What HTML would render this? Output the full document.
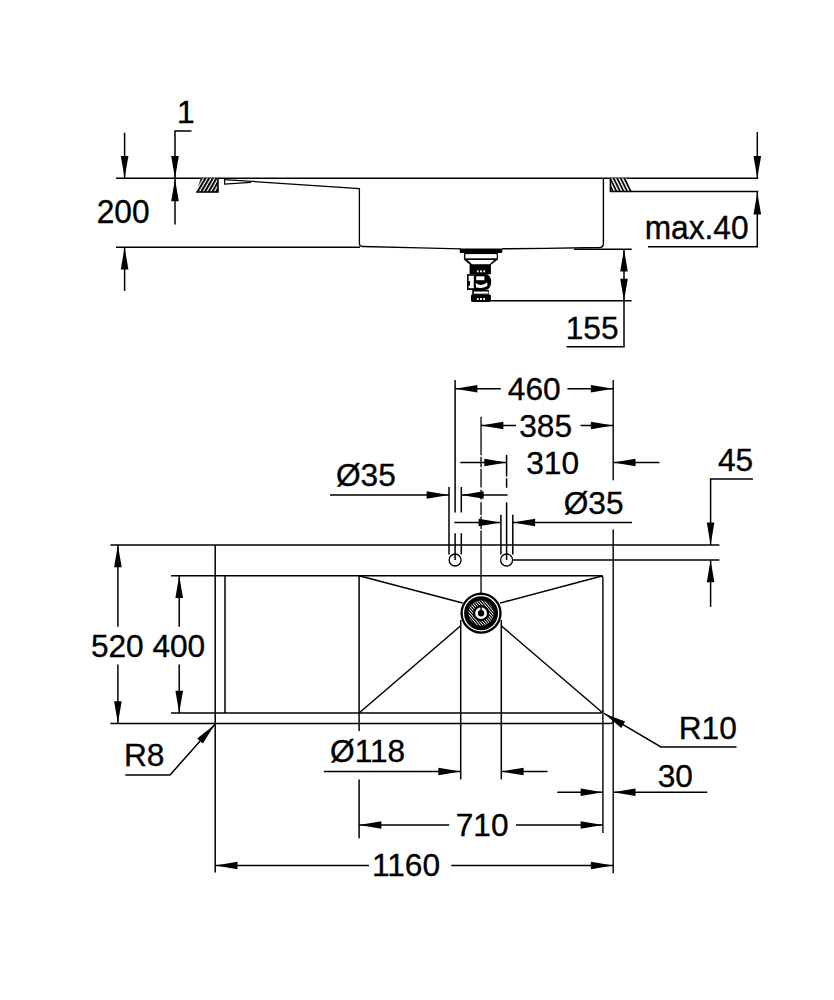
<!DOCTYPE html>
<html><head><meta charset="utf-8"><title>Sink dimensions</title>
<style>
html,body{margin:0;padding:0;background:#fff;}
body{width:834px;height:1000px;overflow:hidden;}
svg{display:block;}

svg text{font-family:"Liberation Sans",Arial,Helvetica,sans-serif;fill:#000;stroke:#000;stroke-width:0.35px;}
</style></head><body>
<svg width="834" height="1000" viewBox="0 0 834 1000" stroke="#000">
<defs>
<pattern id="h1" width="3.2" height="3.2" patternUnits="userSpaceOnUse" patternTransform="translate(196.2 192.2) rotate(-60)"><rect width="3.2" height="3.2" fill="#fff" stroke="none"/><rect width="3.2" height="2.0" fill="#000" stroke="none"/></pattern>
<pattern id="h2" width="3.2" height="3.2" patternUnits="userSpaceOnUse" patternTransform="translate(632 192) rotate(64)"><rect width="3.2" height="3.2" fill="#fff" stroke="none"/><rect width="3.2" height="1.8" fill="#000" stroke="none"/></pattern>
<pattern id="hw" width="2.1" height="2.1" patternUnits="userSpaceOnUse" patternTransform="rotate(50)"><rect width="2.1" height="2.1" fill="#000" stroke="none"/><rect width="2.1" height="0.85" fill="#fff" stroke="none"/></pattern>
</defs>
<rect width="834" height="1000" fill="#fff" stroke="none"/>
<line x1="116" y1="178.2" x2="758.3" y2="178.2" stroke-width="1.6" />
<line x1="116" y1="247.2" x2="360" y2="247.2" stroke-width="1.5" />
<line x1="124.6" y1="132.7" x2="124.6" y2="178.2" stroke-width="1.5" />
<polygon points="124.6,178.2 120.8,155.89999999999998 128.4,155.89999999999998" fill="#000" stroke="none"/>
<line x1="124.6" y1="247.2" x2="124.6" y2="291" stroke-width="1.5" />
<polygon points="124.6,247.2 120.8,269.5 128.4,269.5" fill="#000" stroke="none"/>
<text transform="translate(96.7 222.6) scale(0.99 1.03)" font-size="32">200</text>
<polyline points="191.5,131 175,131 175,178.2" fill="none" stroke-width="1.5" />
<polygon points="175,178.2 171.2,155.89999999999998 178.8,155.89999999999998" fill="#000" stroke="none"/>
<line x1="175" y1="178.2" x2="175" y2="224.6" stroke-width="1.5" />
<polygon points="175,179.0 171.2,201.3 178.8,201.3" fill="#000" stroke="none"/>
<text transform="translate(177.1 122.9) scale(0.99 1.0)" font-size="32">1</text>
<polygon points="200.8,178.2 218.2,178.2 218.2,192.2 196.2,192.2" fill="url(#h1)" stroke="none"/>
<polyline points="218.0,178.2 218.0,192.0 196.2,192.0" fill="none" stroke-width="1.5" />
<polygon points="610.2,178.2 626.4,178.2 632.6,192 610.2,192" fill="url(#h2)" stroke="none"/>
<polyline points="610.4,178.2 610.4,191.6 632,191.6" fill="none" stroke-width="1.5" />
<polyline points="224.6,178.2 224.6,184.2 251,182.4" fill="none" stroke-width="1.2" />
<path d="M224.6 179.6 L359.4 188.5 L359.4 243.6 Q359.4 246.4 362.4 246.5 L420 247.9 L461 248.8" fill="none" stroke-width="1.3"/>
<path d="M502 248.8 L545 248.4 L599.4 247.5 Q603.4 247.3 603.4 243.4 L603.4 178.2" fill="none" stroke-width="1.4"/>
<line x1="574" y1="249.2" x2="631.7" y2="249.2" stroke-width="1.5" />
<line x1="631.6" y1="191.5" x2="758.3" y2="191.5" stroke-width="1.5" />
<line x1="757.3" y1="132" x2="757.3" y2="178.2" stroke-width="1.5" />
<polygon points="757.3,178.2 753.5,155.89999999999998 761.0999999999999,155.89999999999998" fill="#000" stroke="none"/>
<polyline points="757.3,191.8 757.3,246.7 648,246.7" fill="none" stroke-width="1.5" />
<polygon points="757.3,192.2 753.5,214.5 761.0999999999999,214.5" fill="#000" stroke="none"/>
<text transform="translate(644.7 238.5) scale(0.99 1.015)" font-size="32">max.40</text>
<line x1="624" y1="249" x2="624" y2="346.8" stroke-width="1.5" />
<polygon points="624,249.3 620.2,271.6 627.8,271.6" fill="#000" stroke="none"/>
<polygon points="624,301 620.2,278.7 627.8,278.7" fill="#000" stroke="none"/>
<line x1="490.6" y1="300.7" x2="631.6" y2="300.7" stroke-width="1.5" />
<line x1="566.5" y1="346.8" x2="624.7" y2="346.8" stroke-width="1.5" />
<text transform="translate(565.7 338.5) scale(0.99 1.0)" font-size="32">155</text>
<g stroke="none" fill="#000">
<rect x="459.7" y="248.5" width="42.6" height="4.5" rx="1.2"/>
<path d="M463.9 252.6 H497.9 V259.4 L490.4 265.2 H470.4 L463.9 259.4 Z"/>
<rect x="465.3" y="254.1" width="31.4" height="4.2" fill="#fff"/>
<path d="M467.6 260 H494.2 L489.6 264.3 H472 Z" fill="#fff"/>
<rect x="469.6" y="264.9" width="21.3" height="9.4"/>
<rect x="467" y="274.2" width="8.2" height="15.8"/>
<rect x="468.6" y="275.8" width="5.2" height="12.4" fill="#fff"/>
<rect x="468" y="281.2" width="2" height="4.6"/>
<path d="M474.8 273.8 H485 Q491.2 274.6 491.2 282 Q491.2 289 485 290 H474.8 Z"/>
<rect x="476.2" y="276.3" width="8.2" height="3.9" fill="#fff"/>
<path d="M475.8 283 Q481 287.2 487 282.6 L487.6 285.2 Q484.6 289 476 287.6 Z" fill="#fff"/>
<rect x="472.2" y="289.8" width="16.6" height="5"/>
<rect x="473.8" y="291.5" width="14.4" height="2.2" fill="#fff"/>
<rect x="471" y="294.6" width="19.9" height="7.4" rx="1.4"/>
<rect x="476.9" y="270.4" width="1.7" height="1.9" fill="#fff"/><rect x="480" y="270.4" width="1.9" height="1.9" fill="#fff"/><rect x="483.2" y="270.4" width="1.9" height="1.9" fill="#fff"/>
<rect x="476.9" y="298" width="1.7" height="2" fill="#fff"/><rect x="480" y="298" width="1.9" height="2" fill="#fff"/><rect x="483.2" y="298" width="1.9" height="2" fill="#fff"/>
</g>
<line x1="110.4" y1="544.9" x2="719.4" y2="544.9" stroke-width="1.5" />
<line x1="110.4" y1="723.5" x2="610.5" y2="723.5" stroke-width="1.5" />
<path d="M610.5 723.5 Q613.2 723.5 613.2 720.8" fill="none" stroke-width="1.5"/>
<line x1="215.2" y1="544.9" x2="215.2" y2="872.4" stroke-width="1.5" />
<line x1="171" y1="575.7" x2="599.9" y2="575.7" stroke-width="1.5" />
<line x1="171" y1="713.0" x2="599.9" y2="713.0" stroke-width="1.5" />
<path d="M599.9 575.7 Q602.9 575.7 602.9 578.2" fill="none" stroke-width="1.5"/>
<path d="M599.9 713.0 Q602.9 713.0 602.9 710.5" fill="none" stroke-width="1.5"/>
<line x1="225" y1="575.7" x2="225" y2="713.0" stroke-width="1.5" />
<line x1="359.1" y1="575.7" x2="359.1" y2="731" stroke-width="1.5" />
<line x1="359.1" y1="779.4" x2="359.1" y2="838.2" stroke-width="1.5" />
<line x1="602.9" y1="578.2" x2="602.9" y2="832.9" stroke-width="1.4" />
<line x1="613.2" y1="380" x2="613.2" y2="480.2" stroke-width="1.4" />
<line x1="613.2" y1="529.4" x2="613.2" y2="873.2" stroke-width="1.4" />
<line x1="117.9" y1="544.9" x2="117.9" y2="626.8" stroke-width="1.5" />
<line x1="117.9" y1="664.5" x2="117.9" y2="723.5" stroke-width="1.5" />
<polygon points="117.9,544.9 114.10000000000001,567.1999999999999 121.7,567.1999999999999" fill="#000" stroke="none"/>
<polygon points="117.9,723.5 114.10000000000001,701.2 121.7,701.2" fill="#000" stroke="none"/>
<line x1="179.2" y1="575.7" x2="179.2" y2="626.8" stroke-width="1.5" />
<line x1="179.2" y1="664.5" x2="179.2" y2="713.0" stroke-width="1.5" />
<polygon points="179.2,575.7 175.39999999999998,598.0 183.0,598.0" fill="#000" stroke="none"/>
<polygon points="179.2,713.0 175.39999999999998,690.7 183.0,690.7" fill="#000" stroke="none"/>
<text transform="translate(90.9 656.5) scale(0.99 1.0)" font-size="32">520</text>
<text transform="translate(152.4 656.5) scale(0.99 1.0)" font-size="32">400</text>
<polyline points="125.3,775 170,775 214.8,724.4" fill="none" stroke-width="1.5" />
<polygon points="214.80,724.40 202.86,743.62 197.17,738.58" fill="#000" stroke="none"/>
<text transform="translate(124.0 766.1) scale(0.99 1.0)" font-size="32">R8</text>
<polyline points="736.5,746.9 660.9,746.9 604,713.4" fill="none" stroke-width="1.5" />
<polygon points="604.00,713.40 625.14,721.44 621.29,727.99" fill="#000" stroke="none"/>
<text transform="translate(678.7 738.9) scale(0.99 1.0)" font-size="32">R10</text>
<line x1="359.1" y1="575.7" x2="462.6" y2="603.1" stroke-width="1.5" />
<line x1="602.9" y1="575.7" x2="499.8" y2="603.1" stroke-width="1.5" />
<line x1="359.1" y1="713.0" x2="460.7" y2="625.8" stroke-width="1.5" />
<line x1="602.9" y1="713.0" x2="501.2" y2="625.8" stroke-width="1.5" />
<line x1="460.7" y1="620" x2="460.7" y2="779.4" stroke-width="1.5" />
<line x1="501.3" y1="620" x2="501.3" y2="779.4" stroke-width="1.5" />
<line x1="481.05" y1="416.8" x2="481.05" y2="613.2" stroke-width="1.3" stroke-dasharray="38.4 1.5 10.5 1.5 18.8 2.3 9.7 2.8 12.7 1.5 12.5 1.6 300 0"/>
<circle cx="481.05" cy="613.2" r="20.6" fill="#000" stroke="none"/>
<circle cx="481.05" cy="613.2" r="17.6" fill="none" stroke="#fff" stroke-width="1.3"/>
<circle cx="481.05" cy="613.2" r="10.4" fill="none" stroke="url(#hw)" stroke-width="4.4"/>
<circle cx="481.05" cy="613.2" r="4.55" fill="none" stroke="#fff" stroke-width="2.7"/>
<line x1="481.05" y1="606.2" x2="481.05" y2="613.2" stroke-width="1.4" />
<circle cx="455.1" cy="560" r="6.0" fill="none" stroke-width="1.3"/>
<circle cx="506.6" cy="560" r="6.0" fill="none" stroke-width="1.3"/>
<line x1="449" y1="487" x2="449" y2="554.4" stroke-width="1.5" />
<line x1="455.1" y1="380" x2="455.1" y2="512.5" stroke-width="1.5" />
<line x1="455.1" y1="533.2" x2="455.1" y2="560" stroke-width="1.5" />
<line x1="461.3" y1="487" x2="461.3" y2="512.5" stroke-width="1.5" />
<line x1="461.3" y1="533.2" x2="461.3" y2="554.4" stroke-width="1.5" />
<line x1="500.9" y1="514.7" x2="500.9" y2="554.4" stroke-width="1.5" />
<line x1="512.8" y1="514.7" x2="512.8" y2="554.4" stroke-width="1.5" />
<line x1="506.6" y1="454.8" x2="506.6" y2="476.5" stroke-width="1.5" />
<line x1="506.6" y1="478.2" x2="506.6" y2="487.8" stroke-width="1.5" />
<line x1="506.6" y1="502.4" x2="506.6" y2="560" stroke-width="1.5" />
<line x1="512.6" y1="560" x2="719.4" y2="560" stroke-width="1.5" />
<line x1="455.1" y1="388.7" x2="500.8" y2="388.7" stroke-width="1.5" />
<polygon points="455.1,388.7 477.40000000000003,384.9 477.40000000000003,392.5" fill="#000" stroke="none"/>
<line x1="567.4" y1="388.7" x2="613.2" y2="388.7" stroke-width="1.5" />
<polygon points="613.2,388.7 590.9000000000001,384.9 590.9000000000001,392.5" fill="#000" stroke="none"/>
<text transform="translate(507.8 399.8) scale(0.99 1.0)" font-size="32">460</text>
<line x1="481.05" y1="425.5" x2="516" y2="425.5" stroke-width="1.5" />
<polygon points="481.05,425.5 503.35,421.7 503.35,429.3" fill="#000" stroke="none"/>
<line x1="580.5" y1="425.5" x2="613.2" y2="425.5" stroke-width="1.5" />
<polygon points="613.2,425.5 590.9000000000001,421.7 590.9000000000001,429.3" fill="#000" stroke="none"/>
<text transform="translate(519.2 436.8) scale(0.99 1.0)" font-size="32">385</text>
<line x1="460.3" y1="462.5" x2="506.6" y2="462.5" stroke-width="1.5" />
<polygon points="506.6,462.5 484.3,458.7 484.3,466.3" fill="#000" stroke="none"/>
<line x1="613.2" y1="462.5" x2="659.4" y2="462.5" stroke-width="1.5" />
<polygon points="613.2,462.5 635.5,458.7 635.5,466.3" fill="#000" stroke="none"/>
<text transform="translate(526.2 473.8) scale(0.99 1.0)" font-size="32">310</text>
<line x1="330" y1="495" x2="449" y2="495" stroke-width="1.5" />
<polygon points="449,495 426.7,491.2 426.7,498.8" fill="#000" stroke="none"/>
<line x1="461.3" y1="495" x2="507.6" y2="495" stroke-width="1.5" />
<polygon points="461.3,495 483.6,491.2 483.6,498.8" fill="#000" stroke="none"/>
<text transform="translate(335.9 485.6) scale(0.99 1.0)" font-size="32">Ø35</text>
<line x1="454.4" y1="522.5" x2="500.9" y2="522.5" stroke-width="1.5" />
<polygon points="500.9,522.5 478.59999999999997,518.7 478.59999999999997,526.3" fill="#000" stroke="none"/>
<line x1="512.8" y1="522.5" x2="632" y2="522.5" stroke-width="1.5" />
<polygon points="512.8,522.5 535.0999999999999,518.7 535.0999999999999,526.3" fill="#000" stroke="none"/>
<text transform="translate(563.7 513.6) scale(0.99 1.0)" font-size="32">Ø35</text>
<polyline points="752.9,479.1 710.6,479.1 710.6,544.9" fill="none" stroke-width="1.5" />
<polygon points="710.6,544.9 706.8000000000001,522.6 714.4,522.6" fill="#000" stroke="none"/>
<line x1="710.6" y1="560" x2="710.6" y2="606.8" stroke-width="1.5" />
<polygon points="710.6,560 706.8000000000001,582.3 714.4,582.3" fill="#000" stroke="none"/>
<text transform="translate(717.9 471.4) scale(0.99 1.0)" font-size="32">45</text>
<line x1="323.8" y1="771.5" x2="460.7" y2="771.5" stroke-width="1.5" />
<polygon points="460.7,771.5 438.4,767.7 438.4,775.3" fill="#000" stroke="none"/>
<line x1="501.3" y1="771.5" x2="547.6" y2="771.5" stroke-width="1.5" />
<polygon points="501.3,771.5 523.6,767.7 523.6,775.3" fill="#000" stroke="none"/>
<text transform="translate(330.0 762.1) scale(0.99 1.0)" font-size="32">Ø118</text>
<line x1="557.3" y1="792.2" x2="602.9" y2="792.2" stroke-width="1.5" />
<polygon points="602.9,792.2 580.6,788.4000000000001 580.6,796.0" fill="#000" stroke="none"/>
<line x1="613.2" y1="792.2" x2="707.3" y2="792.2" stroke-width="1.5" />
<polygon points="613.2,792.2 635.5,788.4000000000001 635.5,796.0" fill="#000" stroke="none"/>
<text transform="translate(657.7 787.3) scale(0.99 1.0)" font-size="32">30</text>
<line x1="359.1" y1="825" x2="449.2" y2="825" stroke-width="1.5" />
<polygon points="359.1,825 381.40000000000003,821.2 381.40000000000003,828.8" fill="#000" stroke="none"/>
<line x1="516" y1="825" x2="602.9" y2="825" stroke-width="1.5" />
<polygon points="602.9,825 580.6,821.2 580.6,828.8" fill="#000" stroke="none"/>
<text transform="translate(455.7 835.5) scale(0.99 1.0)" font-size="32">710</text>
<line x1="215.2" y1="865.5" x2="368.9" y2="865.5" stroke-width="1.5" />
<polygon points="215.2,865.5 237.5,861.7 237.5,869.3" fill="#000" stroke="none"/>
<line x1="451.2" y1="865.5" x2="613.2" y2="865.5" stroke-width="1.5" />
<polygon points="613.2,865.5 590.9000000000001,861.7 590.9000000000001,869.3" fill="#000" stroke="none"/>
<text transform="translate(372.0 876.1) scale(0.99 1.0)" font-size="32">1160</text>
</svg>
</body></html>
